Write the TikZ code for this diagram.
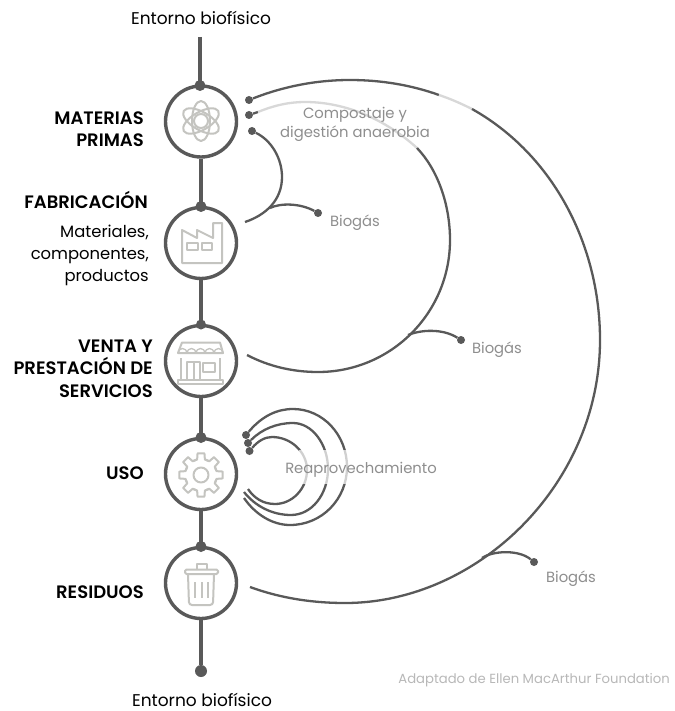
\documentclass[tikz,border=0pt]{standalone}
\usepackage{fontspec}
\setmainfont[BoldFont={Poppins SemiBold}]{Poppins}
\definecolor{dk}{HTML}{595959}
\definecolor{ic}{HTML}{C4C4C0}
\definecolor{tg}{HTML}{8E8E8E}
\definecolor{lg}{HTML}{D8D8D8}
\tikzset{
 stage/.style={circle,draw=dk,line width=3.4pt,fill=white,minimum size=71pt,inner sep=0pt},
 spine/.style={draw=dk,line width=4.4pt},
 conn/.style={draw=dk,line width=2.3pt},
 faint/.style={draw=lg,line width=2.3pt},
 dotn/.style={circle,fill=dk,draw=none,inner sep=0pt,minimum size=#1},
 icon/.style={draw=ic,line width=2pt,line join=round},
 lbl/.style={font=\fontsize{16.4}{18}\selectfont,text=black,inner sep=0pt,anchor=base east},
 blbl/.style={font=\fontsize{18}{18}\selectfont\bfseries,text=black,inner sep=0pt,anchor=base east},
 glbl/.style={font=\fontsize{14.8}{18}\selectfont,text=tg,inner sep=0pt,anchor=base},
 elbl/.style={font=\fontsize{17}{18}\selectfont,inner sep=0pt,anchor=base},
}
\begin{document}
\begin{tikzpicture}[x=1pt,y=-1pt]
\useasboundingbox[fill=white] (0,0) rectangle (674,711);
% stages
\coordinate (top) at (200,37);
\node[dotn=12pt] (d0) at (201,671) {};
\node[stage] (s1) at (201,121.5) {};
\node[stage] (s2) at (201,243) {};
\node[stage] (s3) at (201,361) {};
\node[stage] (s4) at (201,474) {};
\node[stage] (s5) at (201,583) {};
\draw[spine] (top) -- (top|-s1.north);
\draw[spine] (s1.south) -- (s2.north);
\draw[spine] (s2.south) -- (s3.north);
\draw[spine] (s3.south) -- (s4.north);
\draw[spine] (s4.south) -- (s5.north);
\draw[spine] (s5.south) -- (d0);
\node[dotn=11pt] (t1) at (200,85.5) {};
\node[dotn=11pt] (t2) at (201,206.5) {};
\node[dotn=10pt] (t3) at (201,324.5) {};
\node[dotn=11pt] (t4) at (201,437.5) {};
\node[dotn=11pt] (t5) at (201,546.5) {};
% icons
\draw[icon] (201,121) circle (7);
\foreach \r in {30,-30,90}{\draw[icon,rotate around={\r:(201,121)}] (201,121) ellipse (20 and 9);}
\draw[icon] (182,263)--(182,230)--(197,238)--(197,230)--(213,238)--(213,223)--(222,223)--(222,263)--cycle;
\draw[icon] (187,243) rectangle (198,250);
\draw[icon] (202,243) rectangle (212,250);
\draw[icon] (182,342.5)--(220,342.5)--(223,353)--(178,353)--cycle;
\foreach \x in {178,187,196,205,214}{\draw[icon,line width=1.3pt] (\x,353) arc[start angle=180,end angle=360,radius=4.5];}
\draw[icon] (181,358)--(181,380) (220,358)--(220,380);
\draw[icon] (187,362) rectangle (200,380) (193.5,362)--(193.5,380);
\draw[icon] (203,363) rectangle (215,372);
\draw[icon] (178,380) rectangle (223,383.5);
\draw[icon] (201,475) circle (7.5);
\foreach \a in {0,45,...,315}{
\draw[icon,shift={(201,475)}] (\a-28:16)--(\a-14:16)--(\a-9:22)--(\a+9:22)--(\a+14:16)--(\a+28:16);
}
\draw[icon,rounded corners=1.5pt] (185,569.5) rectangle (218,574);
\draw[icon] (197,569.5)--(197,564)--(207,564)--(207,569.5);
\draw[icon,rounded corners=3pt] (188,574)--(189,605)--(213,605)--(214,574);
\draw[icon] (195,582)--(195,598) (201.5,582)--(201.5,598) (208,582)--(208,598);
% large loop
\node[dotn=8pt] (a1) at (249,100) {};
\coordinate (a1t) at (350,80);\coordinate (a1f) at (439,95);\coordinate (a1g) at (472,109);
\coordinate (a1r) at (600,340);\coordinate (a1b) at (345,603);\coordinate (a1e) at (250,587);
\draw[conn] (a1) .. controls (282,87) and (315,80) .. (a1t) .. controls (381,80) and (411,85) .. (a1f);
\draw[faint] (a1f) .. controls (451,99) and (462,104) .. (a1g);
\draw[conn] (a1g) .. controls (554,155) and (600,246) .. (a1r) .. controls (600,484) and (478,603) .. (a1b) .. controls (312,603) and (280,598) .. (a1e);
% medium loop
\node[dotn=8pt] (b1) at (249,115) {};
\coordinate (b1s) at (258,112);\coordinate (b1t) at (305,102);\coordinate (b1f) at (417,148);
\coordinate (b1r) at (450,240);\coordinate (b1b) at (318,372);\coordinate (b1e) at (247,355);
\draw[conn] (b1) -- (b1s);
\draw[faint] (b1s) .. controls (275,105) and (290,102) .. (b1t) .. controls (345,102) and (385,119) .. (b1f);
\draw[conn] (b1f) .. controls (438,170) and (450,205) .. (b1r) .. controls (450,313) and (391,372) .. (b1b) .. controls (292,372) and (268,366) .. (b1e);
% small loop
\node[dotn=8pt] (c1) at (252,131) {};
\coordinate (c1r) at (282,177);\coordinate (c1e) at (245,222);
\draw[conn] (c1) .. controls (271,140) and (282,158) .. (c1r) .. controls (282,200) and (266,215) .. (c1e);
% biogas branches
\coordinate (j1) at (270,208);\coordinate (j2) at (408,335);\coordinate (j3) at (482,558);
\node[dotn=8pt] (e1) at (318,213) {};
\node[dotn=8pt] (e2) at (461,340) {};
\node[dotn=8pt] (e3) at (534,562) {};
\draw[conn] (j1) .. controls (280,203) and (300,203) .. (e1);
\draw[conn] (j2) .. controls (420,330) and (442,328) .. (e2);
\draw[conn] (j3) .. controls (492,551) and (518,549) .. (e3);
% reuse loops
\node[dotn=8pt] (r1) at (246,435) {};
\node[dotn=8pt] (r2) at (248,443) {};
\node[dotn=8pt] (r3) at (249.5,451) {};
\coordinate (r1e) at (244,498);\coordinate (r2e) at (244,492);\coordinate (r3e) at (248,489);
\draw[conn] (r1) .. controls (262,416) and (277,409) .. (293,409) .. controls (323,409) and (347,435) .. (347,467) .. controls (347,499) and (322,525) .. (290,525) .. controls (272,525) and (255,514) .. (r1e);
\draw[conn] (r2) .. controls (262,429) and (277,423) .. (293,423) .. controls (312,423) and (328,444) .. (328,469) .. controls (328,494) and (312,515) .. (291,515) .. controls (272,515) and (255,506) .. (r2e);
\draw[conn] (r3) .. controls (258,441) and (265,437) .. (272,437) .. controls (291,437) and (307,452) .. (307,470) .. controls (307,489) and (292,504) .. (275,504) .. controls (263,504) and (254,498) .. (r3e);
\fill[white,opacity=.72] (299,450) rectangle (352,484);
% labels
\node[elbl] (l0) at (201,24.5) {Entorno biofísico};
\node[elbl] (l1) at (202,706) {Entorno biofísico};
\node[blbl] (m1) at (144,125) {MATERIAS};
\node[blbl] (m2) at (144,147) {PRIMAS};
\node[blbl] (f1) at (148,208) {FABRICACIÓN};
\node[lbl] (f2) at (149,237) {Materiales,};
\node[lbl] (f3) at (149,259) {componentes,};
\node[lbl] (f4) at (149,281) {productos};
\node[blbl] (v1) at (153,352.5) {VENTA Y};
\node[blbl] (v2) at (153,374.5) {PRESTACIÓN DE};
\node[blbl] (v3) at (153,397.5) {SERVICIOS};
\node[blbl] (u1) at (144,479.5) {USO};
\node[blbl] (w1) at (144,598) {RESIDUOS};
\node[glbl] (g1) at (355,119) {Compostaje y};
\node[glbl] (g2) at (355,138) {digestión anaerobia};
\node[glbl] (g3) at (355,226) {Biogás};
\node[glbl] (g4) at (497,353) {Biogás};
\node[glbl] (g5) at (571,582) {Biogás};
\node[glbl] (g6) at (361,473) {Reaprovechamiento};
\node[font=\fontsize{13.2}{15}\selectfont,text=lg!85!black,inner sep=0pt,anchor=base east] (g7) at (670,683) {Adaptado de Ellen MacArthur Foundation};
\end{tikzpicture}
\end{document}
